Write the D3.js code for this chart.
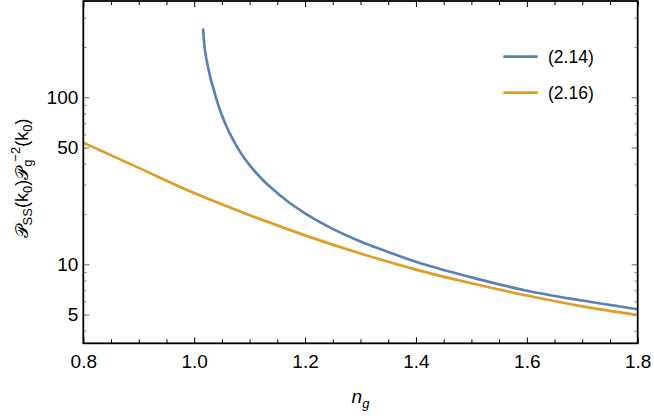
<!DOCTYPE html>
<html><head><meta charset="utf-8">
<script src="https://cdn.jsdelivr.net/npm/d3@7"></script>
<style>
body{margin:0;background:#fff;}
svg{display:block;font-family:"Liberation Sans",Arial,sans-serif;}
</style></head>
<body><svg id="c" width="654" height="416"></svg>
<script>
// ---- data ----
const seriesNames = ["(2.14)", "(2.16)"];
const ngBlue  = [1.016, 1.0185, 1.02, 1.025, 1.03, 1.035, 1.04, 1.05, 1.06, 1.07, 1.08, 1.09, 1.10, 1.12, 1.14, 1.17, 1.2, 1.25, 1.3, 1.35, 1.4, 1.5, 1.6, 1.7, 1.8];
const valBlue = [259, 203, 186, 152, 128, 112, 98, 78, 65, 55.8, 48.8, 43.5, 39.3, 33.0, 28.5, 23.6, 20.2, 16.3, 13.7, 11.85, 10.35, 8.35, 6.95, 6.07, 5.38];
const ngOrange  = [0.8, 0.9, 1.0, 1.1, 1.2, 1.3, 1.4, 1.5, 1.6, 1.7, 1.8];
const valOrange = [53.5, 37.8, 26.7, 19.7, 14.9, 11.6, 9.3, 7.7, 6.5, 5.6, 4.97];
const xMajor = [0.8, 1.0, 1.2, 1.4, 1.6, 1.8];
const xMinor = [0.85, 0.9, 0.95, 1.05, 1.1, 1.15, 1.25, 1.3, 1.35, 1.45, 1.5, 1.55, 1.65, 1.7, 1.75];
const yMajor = [5, 10, 50, 100];
const yMinor = [4, 6, 7, 8, 9, 20, 30, 40, 60, 70, 80, 90, 200, 300];
const xDomain = [0.8, 1.8];
const yDomain = [3.365, 377.4];

// ---- layout ----
const L = 83.3, R = 637.7, T = 1, B = 343.3;
const colors = ["#5E81B5", "#E19C24"];
const svg = d3.select("#c");
const x = d3.scaleLinear().domain(xDomain).range([L, R]);
const y = d3.scaleLog().domain(yDomain).range([B, T]);

svg.append("defs").append("clipPath").attr("id","clip")
  .append("rect").attr("x",L).attr("y",T).attr("width",R-L).attr("height",B-T);

function styleAxis(g, col, fs){
  g.select(".domain").remove();
  g.selectAll(".tick line").attr("stroke", col).attr("stroke-width", 1);
  g.selectAll(".tick text").attr("fill","#000").style("font-size", fs+"px")
   .style("font-family",'"Liberation Sans",Arial,sans-serif');
}
// bottom
svg.append("g").attr("transform",`translate(0,${B})`)
  .call(d3.axisBottom(x).tickValues(xMajor).tickSize(-6).tickPadding(11).tickFormat(d3.format(".1f")))
  .call(g=>styleAxis(g,"#000",19));
svg.append("g").attr("transform",`translate(0,${B})`)
  .call(d3.axisBottom(x).tickValues(xMinor).tickSize(-4).tickFormat(""))
  .call(g=>styleAxis(g,"#000",18));
// top
svg.append("g").attr("transform",`translate(0,${T})`)
  .call(d3.axisTop(x).tickValues(xMajor).tickSize(-6).tickFormat(""))
  .call(g=>styleAxis(g,"#000",18));
svg.append("g").attr("transform",`translate(0,${T})`)
  .call(d3.axisTop(x).tickValues(xMinor).tickSize(-4).tickFormat(""))
  .call(g=>styleAxis(g,"#000",18));
// left
svg.append("g").attr("transform",`translate(${L},0)`)
  .call(d3.axisLeft(y).tickValues(yMajor).tickSize(-6).tickPadding(5).tickFormat(d3.format("d")))
  .call(g=>styleAxis(g,"#666",19));
svg.append("g").attr("transform",`translate(${L},0)`)
  .call(d3.axisLeft(y).tickValues(yMinor).tickSize(-3.5).tickFormat(""))
  .call(g=>styleAxis(g,"#999",18));
// right
svg.append("g").attr("transform",`translate(${R},0)`)
  .call(d3.axisRight(y).tickValues(yMajor).tickSize(-6).tickFormat(""))
  .call(g=>styleAxis(g,"#666",18));
svg.append("g").attr("transform",`translate(${R},0)`)
  .call(d3.axisRight(y).tickValues(yMinor).tickSize(-3.5).tickFormat(""))
  .call(g=>styleAxis(g,"#999",18));

// curves
const line = d3.line().x(d=>x(d[0])).y(d=>y(d[1])).curve(d3.curveMonotoneX);
const series = [d3.zip(ngBlue, valBlue), d3.zip(ngOrange, valOrange)];
const gp = svg.append("g").attr("clip-path","url(#clip)");
series.forEach((s,i)=>{
  gp.append("path").datum(s).attr("d",line).attr("fill","none")
    .attr("stroke",colors[i]).attr("stroke-width",2.7).attr("stroke-linejoin","round");
});

// frame
svg.append("rect").attr("x",L).attr("y",T).attr("width",R-L).attr("height",B-T)
  .attr("fill","none").attr("stroke","#000").attr("stroke-width",1.8);

// legend
const legY = [56.7, 92.7];
seriesNames.forEach((nm,i)=>{
  svg.append("line").attr("x1",503.3).attr("x2",537.7).attr("y1",legY[i]).attr("y2",legY[i])
    .attr("stroke",colors[i]).attr("stroke-width",2.7);
  svg.append("text").attr("x",548).attr("y",legY[i]).attr("dy","0.36em")
    .style("font-size","17.5px").text(nm);
});

// x label
const xl = svg.append("text").attr("x",(L+R)/2).attr("y",403).attr("text-anchor","middle")
  .style("font-size","19px");
xl.append("tspan").style("font-style","italic").text("n");
xl.append("tspan").attr("dy",5).style("font-size","13px").style("font-style","italic").text("g");

// y label
const yl = svg.append("text").attr("transform","translate(28,178.5) rotate(-90)")
  .attr("text-anchor","middle").style("font-size","18px");
const P = "\u{1D4AB}";
yl.append("tspan").attr("font-family","DejaVu Sans").text(P);
yl.append("tspan").attr("dy",4).style("font-size","13px").text("SS");
yl.append("tspan").attr("dy",-4).text("(k");
yl.append("tspan").attr("dy",4).style("font-size","13px").text("0");
yl.append("tspan").attr("dy",-4).text(")");
yl.append("tspan").attr("font-family","DejaVu Sans").text(P);
yl.append("tspan").attr("dy",4).style("font-size","13px").text("g");
yl.append("tspan").attr("dy",-12).attr("dx",-2).style("font-size","13px").text("\u22122");
yl.append("tspan").attr("dy",8).text("(k");
yl.append("tspan").attr("dy",4).style("font-size","13px").text("0");
yl.append("tspan").attr("dy",-4).text(")");
</script></body></html>
